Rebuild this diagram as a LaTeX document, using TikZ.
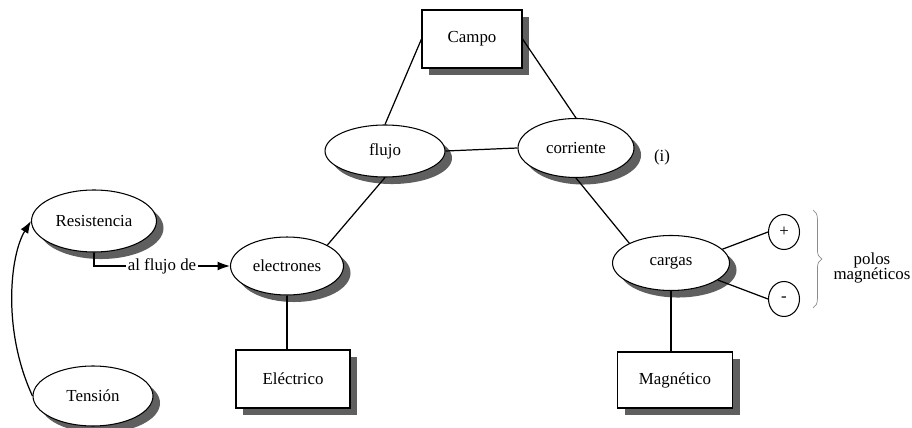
\documentclass[tikz,border=0pt]{standalone}
\usepackage{fontspec}
\setmainfont{Liberation Serif}
\usetikzlibrary{shapes.geometric, arrows.meta, decorations.pathreplacing}
\definecolor{gris}{RGB}{95,95,95}
\definecolor{grisclaro}{RGB}{140,140,140}
\tikzset{
  concepto/.style={draw, ellipse, fill=white, line width=0.6pt, inner sep=0pt},
  caja/.style={draw, rectangle, fill=white, line width=0.6pt, inner sep=0pt},
  polo/.style={draw, ellipse, fill=white, line width=0.6pt, inner sep=0pt,
    minimum width=0.62cm, minimum height=0.7cm},
  enlace/.style={line width=0.7pt},
}
% nombre, posicion, ancho, alto, texto
\newcommand{\elipse}[5]{%
  \fill[gris] ([shift={(4pt,-4pt)}]#2) ellipse [x radius=#3/2, y radius=#4/2];
  \node[concepto, minimum width=#3, minimum height=#4] (#1) at (#2) {#5};}
\newcommand{\rectangulo}[5]{%
  \fill[gris] ([shift={(4pt-#3/2,-4pt-#4/2)}]#2) rectangle ++(#3,#4);
  \node[caja, minimum width=#3, minimum height=#4] (#1) at (#2) {#5};}
\begin{document}
\begin{tikzpicture}[x=0.02cm, y=-0.02cm, font=\fontsize{9.6}{11}\selectfont]
    \useasboundingbox (0,0) rectangle (912,428);

    \rectangulo{campo}{472,39}{2cm}{1.16cm}{Campo}
    \elipse{flujo}{385,151}{2.4cm}{1.04cm}{flujo}
    \elipse{corriente}{576,148}{2.32cm}{1.18cm}{corriente}
    \node (nota) at (662,157) {(i)};

    \elipse{res}{94,221}{2.5cm}{1.24cm}{Resistencia}
    \elipse{ten}{93,396}{2.4cm}{1.2cm}{Tensión}
    \elipse{elec}{287,266}{2.26cm}{1.16cm}{electrones}
    \rectangulo{electrico}{293,379}{2.28cm}{1.16cm}{Eléctrico}

    \elipse{cargas}{671,263}{2.34cm}{1.1cm}{cargas}
    \rectangulo{magnetico}{675,380}{2.3cm}{1.12cm}{Magnético}
    \node[polo] (mas) at (784,232) {+};
    \node[polo] (menos) at (784,299) {-};
    \node[align=center] (polos) at (872,268) {polos\\[-2pt]magnéticos};

    \draw[enlace] (campo.west) -- (flujo.north);
    \draw[enlace] (campo.east) -- (corriente.north);
    \draw[enlace] (flujo.east) -- (corriente.west);
    \draw[enlace] (flujo.south) -- (elec.north east);
    \draw[enlace] (corriente.south) -- (cargas.north west);
    \draw[enlace] (elec.south) -- (elec.south |- electrico.north);
    \draw[enlace] (cargas.south) -- (cargas.south |- magnetico.north);
    \draw[enlace] (cargas.15) -- (mas.west);
    \draw[enlace] (cargas.-20) -- (menos.west);

    \draw[enlace, -{Latex[length=7pt, width=5pt]}] (res.south) |- node[pos=0.75, fill=white, inner sep=1pt] {al flujo de} (elec.west);
    \draw[enlace, -{Latex[length=7pt, width=5pt]}] (ten.west) .. controls (2,330) and (10,255) .. (res.west);

    \draw[grisclaro, line width=0.4pt, decorate, decoration={brace, amplitude=5pt}] (813,210) -- (813,308);
\end{tikzpicture}
\end{document}
